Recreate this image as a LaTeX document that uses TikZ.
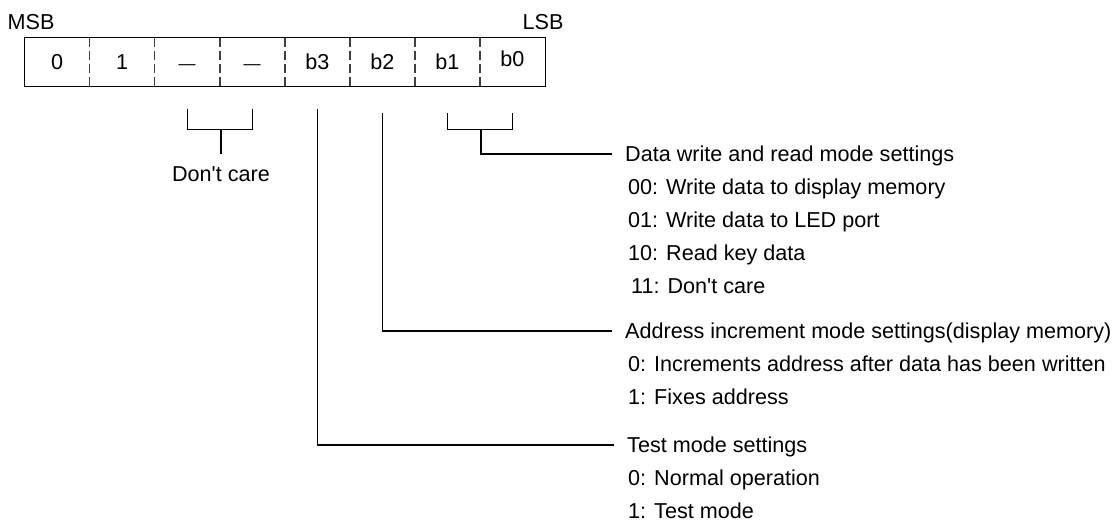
\documentclass[tikz,border=0pt]{standalone}
\usepackage{fontspec}
\setmainfont{Liberation Sans}
\usetikzlibrary{positioning}

\newcommand{\dsh}{{\fontsize{17}{17}\selectfont —}}

\begin{document}
\begin{tikzpicture}[x=1pt, y=-1pt, font=\fontsize{21.6}{26}\selectfont,
    cell/.style={minimum width=65.06pt, minimum height=48.3pt, inner sep=0pt,
      text height=15.5pt, text depth=0pt},
    divider/.style={draw=black!75, line width=1.3pt, dash pattern=on 9pt off 4pt},
    wire/.style={line width=1.3pt},
    txt/.style={anchor=west, inner sep=0pt, text height=15.5pt, text depth=0pt},
    head/.style={txt, inner xsep=13pt}]
\useasboundingbox (0,0) rectangle (1118,522);

% register bits, MSB on the left
\foreach \v/\n [count=\i from 0] in {0/s7, 1/s6, \dsh/s5, \dsh/s4, b3/s3, b2/s2, b1/s1, {\raisebox{3pt}{b0}}/s0}
  \node[cell] (\n) at (57.03+65.06*\i, 61.85) {\v};
\draw[line width=1.3pt] (s7.north west) rectangle (s0.south east);
\foreach \n in {s7,s6,s5,s4,s3,s2,s1}
  \draw[divider] (\n.north east) -- (\n.south east);

\node[txt] (msb) at (7.5,21.5) {MSB};
\node[txt] (lsb) at (522.5,21.5) {LSB};

% don't care bits
\draw[wire] (s5 |- 0,109) |- (s4 |- 0,129.3) -- (s4 |- 0,109);
\coordinate (dcj) at (221,129.3);
\coordinate (dcend) at (221,154);
\draw[wire] (dcj) -- (dcend);
\node[txt, below=12pt of dcend] (dc) {Don\textquotesingle t care};

% b1 b0
\draw[wire] (s1 |- 0,113) |- (s0 |- 0,129.3) -- (s0 |- 0,113);
\coordinate (dwj) at (481,129.3);
\node[head] (dw) at (612,154) {Data write and read mode settings};
\draw[wire] (dwj) |- (dw.west);
\foreach \t [count=\i] in {00: Write data to display memory, 01: Write data to LED port,
    10: Read key data, \hspace{3pt}11: Don\textquotesingle t care}
  \node[txt] (dw\i) at (628,154+33*\i) {\t};

% b2
\node[head] (ai) at (612,331) {Address increment mode settings(display memory)};
\draw[wire] (s2 |- 0,113) |- (ai.west);
\foreach \t [count=\i] in {0: Increments address after data has been written, 1: Fixes address}
  \node[txt] (ai\i) at (628,331+33*\i) {\t};

% b3
\node[head] (tm) at (614,445) {Test mode settings};
\draw[wire] (s3 |- 0,109) |- (tm.west);
\foreach \t [count=\i] in {0: Normal operation, 1: Test mode}
  \node[txt] (tm\i) at (628,445+33*\i) {\t};
\end{tikzpicture}
\end{document}
